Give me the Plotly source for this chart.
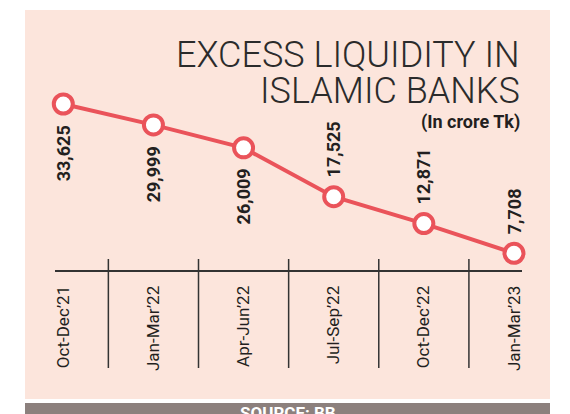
import plotly.graph_objects as go

# ---- data ----
categories = ["Oct-Dec’21", "Jan-Mar’22", "Apr-Jun’22", "Jul-Sep’22", "Oct-Dec’22", "Jan-Mar’23"]
values = [33625, 29999, 26009, 17525, 12871, 7708]
value_labels = ["33,625", "29,999", "26,009", "17,525", "12,871", "7,708"]
label_below = [True, True, True, False, False, False]

title_line1 = "EXCESS LIQUIDITY IN"
title_line2 = "ISLAMIC BANKS"
subtitle = "(In crore Tk)"
source = "SOURCE: BB"

# ---- layout geometry ----
# The page body has an 8px margin, so figure coords = screen coords - 8.
OFF = 8
W, H = 570, 414
L, R, T, B = 55 - OFF, W - (522 - OFF), 95 - OFF, H - (270 - OFF)
PW, PH = W - L - R, H - T - B

def fx(p):  # screen pixel x -> paper
    return (p - OFF - L) / PW

def fy(p):  # screen pixel y -> paper
    return (H - B - (p - OFF)) / PH

PINK = "#fce5dc"
RED = "#ea535a"
DARK = "#231f20"
GREY = "#8c807d"

idx = list(range(len(categories)))

fig = go.Figure()
fig.add_trace(go.Scatter(
    x=idx, y=values, mode="lines+markers",
    line=dict(color=RED, width=4),
    marker=dict(size=19, color="white", line=dict(color=RED, width=4)),
    cliponaxis=False, hoverinfo="skip", showlegend=False,
))

annotations = []
for i, (v, lab, below) in enumerate(zip(values, value_labels, label_below)):
    annotations.append(dict(
        x=i, y=v, xref="x", yref="y", text=lab, showarrow=False,
        textangle=-90, xanchor="center",
        yanchor="top" if below else "bottom",
        yshift=-19 if below else 17,
        font=dict(family="Roboto", size=18, color=DARK, weight="bold"),
    ))

annotations += [
    dict(x=fx(522), y=fy(55), xref="paper", yref="paper", text=title_line1,
         showarrow=False, xanchor="right", yanchor="middle",
         font=dict(family="Roboto", size=36, color="#2b2b2b", weight=300)),
    dict(x=fx(522), y=fy(91), xref="paper", yref="paper", text=title_line2,
         showarrow=False, xanchor="right", yanchor="middle",
         font=dict(family="Roboto", size=36, color="#2b2b2b", weight=300)),
    dict(x=fx(522), y=fy(122), xref="paper", yref="paper", text=subtitle,
         showarrow=False, xanchor="right", yanchor="middle",
         font=dict(family="Roboto", size=18, color=DARK, weight="bold")),
    dict(x=fx(288), y=fy(401), xref="paper", yref="paper", text=source,
         showarrow=False, xanchor="center", yanchor="top",
         font=dict(family="Roboto", size=17, color="white", weight="bold")),
]

shapes = [
    dict(type="rect", xref="paper", yref="paper", x0=fx(25), x1=fx(550), y0=fy(399), y1=fy(10),
         fillcolor=PINK, line=dict(width=0), layer="below"),
    dict(type="rect", xref="paper", yref="paper", x0=fx(25), x1=fx(550), y0=fy(430), y1=fy(403),
         fillcolor=GREY, line=dict(width=0), layer="below"),
]
for i in idx[:-1]:
    shapes.append(dict(type="line", xref="x", yref="paper", x0=i + 0.5, x1=i + 0.5,
                       y0=fy(368), y1=fy(259), line=dict(color="#333333", width=1.5)))

fig.update_layout(
    width=W, height=H,
    margin=dict(l=L, r=R, t=T, b=B, autoexpand=False),
    paper_bgcolor="white", plot_bgcolor="rgba(0,0,0,0)",
    annotations=annotations, shapes=shapes,
    xaxis=dict(range=[-0.092, 5.089], tickvals=idx, ticktext=categories, tickangle=-90,
               showgrid=False, zeroline=False, showline=True, linecolor="#333333", linewidth=2,
               ticks="", ticklabelstandoff=7,
               tickfont=dict(family="Roboto", size=17, color=DARK), fixedrange=True),
    yaxis=dict(range=[4807, 35187], visible=False, fixedrange=True),
)

fig.write_html("out.html")
